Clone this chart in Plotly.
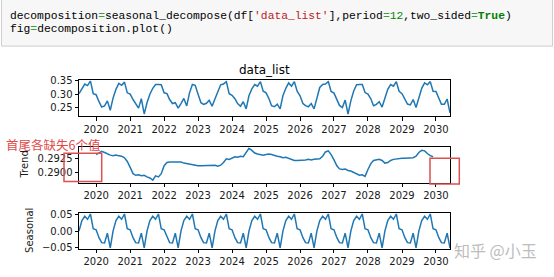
import pandas as pd
import plotly.graph_objects as go

# ---------------- data (monthly, Jul 2019 .. Jun 2030) ----------------
START_MONTH = "2019-07-01"
N_MONTHS = 132
YEAR_TICKS = ["2020-01-01", "2021-01-01", "2022-01-01", "2023-01-01", "2024-01-01",
              "2025-01-01", "2026-01-01", "2027-01-01", "2028-01-01", "2029-01-01",
              "2030-01-01"]
YEAR_LABELS = ["2020", "2021", "2022", "2023", "2024", "2025", "2026", "2027",
               "2028", "2029", "2030"]

observed = [
    0.302, 0.322, 0.338, 0.332, 0.350, 0.302, 0.298, 0.272, 0.252, 0.256, 0.275, 0.240,
    0.285, 0.318, 0.340, 0.333, 0.345, 0.305, 0.300, 0.280, 0.264, 0.248, 0.283, 0.226,
    0.268, 0.300, 0.322, 0.336, 0.336, 0.335, 0.305, 0.302, 0.280, 0.265, 0.268, 0.248,
    0.265, 0.284, 0.256, 0.305, 0.336, 0.333, 0.300, 0.268, 0.262, 0.266, 0.277, 0.255,
    0.282, 0.311, 0.335, 0.338, 0.347, 0.302, 0.296, 0.283, 0.265, 0.255, 0.272, 0.245,
    0.294, 0.320, 0.336, 0.330, 0.347, 0.311, 0.305, 0.283, 0.257, 0.253, 0.263, 0.245,
    0.294, 0.322, 0.342, 0.330, 0.347, 0.311, 0.294, 0.265, 0.257, 0.253, 0.265, 0.245,
    0.290, 0.325, 0.336, 0.338, 0.347, 0.310, 0.304, 0.283, 0.258, 0.250, 0.278, 0.226,
    0.275, 0.312, 0.335, 0.336, 0.336, 0.306, 0.300, 0.283, 0.257, 0.262, 0.272, 0.252,
    0.282, 0.318, 0.336, 0.330, 0.347, 0.311, 0.302, 0.283, 0.263, 0.260, 0.280, 0.250,
    0.282, 0.322, 0.342, 0.335, 0.347, 0.311, 0.310, 0.283, 0.262, 0.262, 0.282, 0.230,
]

trend = [
    None, None, None, None, None, None,
    0.2933, 0.2936, 0.2939, 0.2937, 0.2934, 0.2932, 0.2931, 0.2932, 0.2931, 0.2930, 0.2927, 0.2920,
    0.2909, 0.2897, 0.2894, 0.2895, 0.2893, 0.2894, 0.2891, 0.2889, 0.2885, 0.2893, 0.2891, 0.2897,
    0.2912, 0.2918, 0.2919, 0.2919, 0.2920, 0.2919, 0.2919, 0.2917, 0.2916, 0.2915, 0.2913, 0.2912,
    0.2912, 0.2912, 0.2912, 0.2913, 0.2912, 0.2912, 0.2913, 0.2911, 0.2913, 0.2918, 0.2925, 0.2924,
    0.2927, 0.2929, 0.2928, 0.2930, 0.2929, 0.2936, 0.2945, 0.2941, 0.2936, 0.2934, 0.2933, 0.2932,
    0.2933, 0.2934, 0.2933, 0.2931, 0.2930, 0.2929, 0.2927, 0.2928, 0.2926, 0.2923, 0.2922, 0.2922,
    0.2922, 0.2923, 0.2923, 0.2924, 0.2923, 0.2924, 0.2924, 0.2925, 0.2930, 0.2938, 0.2940, 0.2933,
    0.2923, 0.2912, 0.2906, 0.2905, 0.2906, 0.2903, 0.2902, 0.2899, 0.2896, 0.2894, 0.2895, 0.2892,
    0.2905, 0.2916, 0.2922, 0.2923, 0.2924, 0.2922, 0.2917, 0.2918, 0.2922, 0.2924, 0.2925, 0.2925,
    0.2926, 0.2926, 0.2926, 0.2926, 0.2927, 0.2930, 0.2937, 0.2941, 0.2940, 0.2935, 0.2931, 0.2929,
    None, None, None, None, None, None,
]

seasonal = [
    0.000, 0.032, 0.045, 0.036, 0.052, 0.007, 0.004, -0.020, -0.035, -0.036, -0.006, -0.051,
    0.000, 0.032, 0.045, 0.036, 0.052, 0.007, 0.004, -0.020, -0.035, -0.036, -0.006, -0.051,
    0.000, 0.032, 0.045, 0.036, 0.052, 0.007, 0.004, -0.020, -0.035, -0.036, -0.006, -0.051,
    0.000, 0.032, 0.045, 0.036, 0.052, 0.007, 0.004, -0.020, -0.035, -0.036, -0.006, -0.051,
    0.000, 0.032, 0.045, 0.036, 0.052, 0.007, 0.004, -0.020, -0.035, -0.036, -0.006, -0.051,
    0.000, 0.032, 0.045, 0.036, 0.052, 0.007, 0.004, -0.020, -0.035, -0.036, -0.006, -0.051,
    0.000, 0.032, 0.045, 0.036, 0.052, 0.007, 0.004, -0.020, -0.035, -0.036, -0.006, -0.051,
    0.000, 0.032, 0.045, 0.036, 0.052, 0.007, 0.004, -0.020, -0.035, -0.036, -0.006, -0.051,
    0.000, 0.032, 0.045, 0.036, 0.052, 0.007, 0.004, -0.020, -0.035, -0.036, -0.006, -0.051,
    0.000, 0.032, 0.045, 0.036, 0.052, 0.007, 0.004, -0.020, -0.035, -0.036, -0.006, -0.051,
    0.000, 0.032, 0.045, 0.036, 0.052, 0.007, 0.004, -0.020, -0.035, -0.036, -0.006, -0.051,
]

Y1_TICKS = [0.25, 0.30, 0.35]
Y1_LABELS = ["0.25", "0.30", "0.35"]
Y2_TICKS = [0.2900, 0.2925]
Y2_LABELS = ["0.2900", "0.2925"]
Y3_TICKS = [-0.05, 0.0, 0.05]
Y3_LABELS = ["\u22120.05", "0.00", "0.05"]

TITLE = "data_list"
NOTE = "首尾各缺失6个值"
WATERMARK = "知乎 @小玉"

# ---------------- layout helpers ----------------
W, H = 554, 277


def fx(px):
    return px / W


def fy(py):
    return 1 - py / H


dates = pd.date_range(START_MONTH, periods=N_MONTHS, freq="MS")
LINE = dict(color="#1f77b4", width=1.5)
TICKFONT = dict(family="DejaVu Sans", size=10, color="#1a1a1a")

fig = go.Figure()
fig.add_trace(go.Scatter(x=dates, y=observed, mode="lines", line=LINE,
                         xaxis="x", yaxis="y", hoverinfo="skip"))
fig.add_trace(go.Scatter(x=dates, y=trend, mode="lines", line=LINE,
                         xaxis="x2", yaxis="y2", hoverinfo="skip", connectgaps=False))
fig.add_trace(go.Scatter(x=dates, y=seasonal, mode="lines", line=LINE,
                         xaxis="x3", yaxis="y3", hoverinfo="skip"))

X_DOM = [fx(79), fx(450)]
common = dict(showline=True, mirror=True, linecolor="#000000", linewidth=0.8,
              ticks="outside", ticklen=3.5, tickwidth=0.8, tickcolor="#000000",
              showgrid=False, zeroline=False, tickfont=TICKFONT, fixedrange=True)

xcommon = dict(common, type="date", range=[dates[0], dates[-1]],
               tickmode="array", tickvals=YEAR_TICKS, ticktext=YEAR_LABELS, domain=X_DOM)

fig.update_layout(
    width=W, height=H, autosize=False,
    margin=dict(l=0, r=0, t=0, b=0, pad=0),
    paper_bgcolor="white", plot_bgcolor="white",
    showlegend=False,
    xaxis=dict(xcommon, anchor="y"),
    xaxis2=dict(xcommon, anchor="y2"),
    xaxis3=dict(xcommon, anchor="y3"),
    yaxis=dict(common, anchor="x", domain=[fy(115), fy(78)], range=[0.2175, 0.3512],
               tickmode="array", tickvals=Y1_TICKS, ticktext=Y1_LABELS),
    yaxis2=dict(common, anchor="x2", domain=[fy(184), fy(147)], range=[0.28794, 0.29469],
                tickmode="array", tickvals=Y2_TICKS, ticktext=Y2_LABELS),
    yaxis3=dict(common, anchor="x3", domain=[fy(252), fy(215)], range=[-0.0538, 0.0550],
                tickmode="array", tickvals=Y3_TICKS, ticktext=Y3_LABELS),
)

EQ = "<span style='color:#3a9e3a'>=</span>"
code1 = ("decomposition" + EQ + "seasonal_decompose(df[<span style='color:#ba2121'>'data_list'</span>],period"
         + EQ + "<span style='color:#008800'>12</span>,two_sided" + EQ
         + "<span style='color:#008000'><b>True</b></span>)")
code2 = "fig" + EQ + "decomposition.plot()"

CODEFONT = dict(family="Liberation Mono", size=11.3, color="#000000")

annotations = [
    dict(text=code1, x=fx(8), y=fy(11), xref="paper", yref="paper",
         xanchor="left", yanchor="middle", showarrow=False, font=CODEFONT),
    dict(text=code2, x=fx(8), y=fy(25), xref="paper", yref="paper",
         xanchor="left", yanchor="middle", showarrow=False, font=CODEFONT),
    dict(text=TITLE, x=fx(264.5), y=fy(67), xref="paper", yref="paper",
         xanchor="center", yanchor="middle", showarrow=False,
         font=dict(family="DejaVu Sans", size=12, color="#000000")),
    dict(text="Trend", x=fx(24.5), y=fy(165.5), xref="paper", yref="paper",
         xanchor="center", yanchor="middle", showarrow=False, textangle=-90,
         font=dict(family="DejaVu Sans", size=10, color="#1a1a1a")),
    dict(text="Seasonal", x=fx(30), y=fy(233.5), xref="paper", yref="paper",
         xanchor="center", yanchor="middle", showarrow=False, textangle=-90,
         font=dict(family="DejaVu Sans", size=10, color="#1a1a1a")),
    dict(text=NOTE, x=fx(5), y=fy(144), xref="paper", yref="paper",
         xanchor="left", yanchor="middle", showarrow=False, borderpad=0,
         font=dict(family="Noto Sans CJK SC", size=12.5, color="#e04a4a")),
    dict(text=WATERMARK, x=fx(452), y=fy(253), xref="paper", yref="paper",
         xanchor="left", yanchor="middle", showarrow=False,
         font=dict(family="Noto Sans CJK SC", size=16, color="#bdbdbd")),
]
fig.update_layout(annotations=annotations)

shapes = [
    dict(type="rect", xref="paper", yref="paper", x0=fx(1.5), x1=fx(552.5),
         y0=fy(42.5), y1=fy(-6), fillcolor="#f7f7f7",
         line=dict(color="#cfcfcf", width=1), layer="below"),
    dict(type="rect", xref="paper", yref="paper", x0=fx(64), x1=fx(101.7),
         y0=fy(182.3), y1=fy(153.3), line=dict(color="#dc5050", width=1.5), layer="above"),
    dict(type="rect", xref="paper", yref="paper", x0=fx(430), x1=fx(459.3),
         y0=fy(185), y1=fy(158.3), line=dict(color="#dc5050", width=1.5), layer="above"),
]
fig.update_layout(shapes=shapes)

fig.write_html("out.html", config={"displayModeBar": False})
